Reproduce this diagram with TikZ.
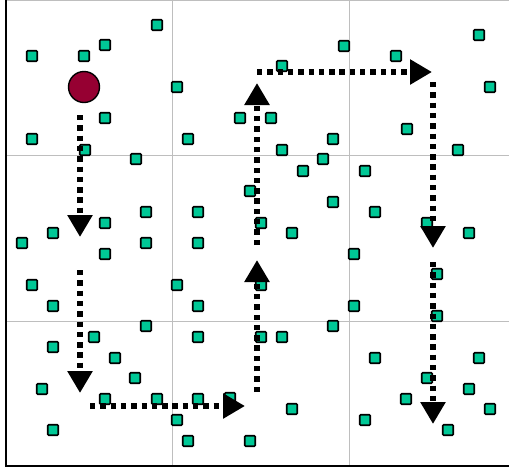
\documentclass[tikz,border=0pt]{standalone}
\usetikzlibrary{arrows.meta}
\definecolor{teal}{RGB}{0,200,150}
\definecolor{berry}{RGB}{150,0,50}
\definecolor{gridgray}{RGB}{190,190,190}
\tikzset{
  sq/.style={draw=black, line width=1.6pt, fill=teal, minimum size=10.5pt, inner sep=0pt, rounded corners=1pt},
  startdot/.style={circle, draw=black, line width=1.4pt, fill=berry, minimum size=31pt, inner sep=0pt},
  gridline/.style={gridgray, line width=0.8pt},
  axisline/.style={black, line width=2pt},
  route/.style={line width=5.8pt, dash pattern=on 5.4pt off 4.9pt, -{Triangle[length=22pt,width=24pt]}}
}
\begin{document}
\begin{tikzpicture}[x=1pt,y=-1pt]
\useasboundingbox (0,0) rectangle (509,467);
% grid
\draw[gridline] (6,0.8) -- (509,0.8);
\draw[gridline] (6,155) -- (509,155);
\draw[gridline] (6,321) -- (509,321);
\draw[gridline] (172,0) -- (172,465);
\draw[gridline] (349,0) -- (349,465);
% axes
\draw[axisline] (6,0) -- (6,465.5) -- (509,465.5);
% squares
\foreach \x/\y [count=\i] in {
 32/56, 84/56, 105/45, 157/25, 177/87, 105/118, 32/139, 85/150, 136/159,
 188/139, 240/118, 271/118, 282/66, 344/46, 396/56, 479/35, 490/87, 407/129,
 458/150, 333/139, 282/150, 323/159, 303/171, 365/171, 250/191, 333/202,
 375/212, 427/223, 469/233, 146/212, 198/212, 105/223, 53/233, 22/243,
 146/243, 198/243, 105/254, 261/223, 292/233, 354/254, 32/285, 53/306,
 177/285, 198/306, 261/285, 354/306, 437/274, 437/316, 146/326, 94/337,
 198/337, 261/337, 282/337, 333/326, 53/347, 115/358, 375/358, 479/358,
 135/378, 42/389, 105/399, 157/399, 198/399, 230/398, 177/420, 188/441,
 250/441, 292/409, 365/420, 406/399, 427/378, 469/389, 490/409, 448/430,
 53/430}
  \node[sq] (s\i) at (\x,\y) {};
% start
\node[startdot] (start) at (84,87) {};
% route coordinates
\coordinate (a1) at (80,115);  \coordinate (b1) at (80,237);
\coordinate (a2) at (80,270);  \coordinate (b2) at (80,393);
\coordinate (a3) at (90,406);  \coordinate (b3) at (245,406);
\coordinate (a4) at (257,392); \coordinate (b4) at (257,260);
\coordinate (a5) at (257,245); \coordinate (b5) at (257,83);
\coordinate (a6) at (257,72);  \coordinate (b6) at (432,72);
\coordinate (a7) at (433,82);  \coordinate (b7) at (433,248);
\coordinate (a8) at (433,262); \coordinate (b8) at (433,424);
\foreach \k in {1,...,8}
  \draw[route] (a\k) -- (b\k);
\end{tikzpicture}
\end{document}
